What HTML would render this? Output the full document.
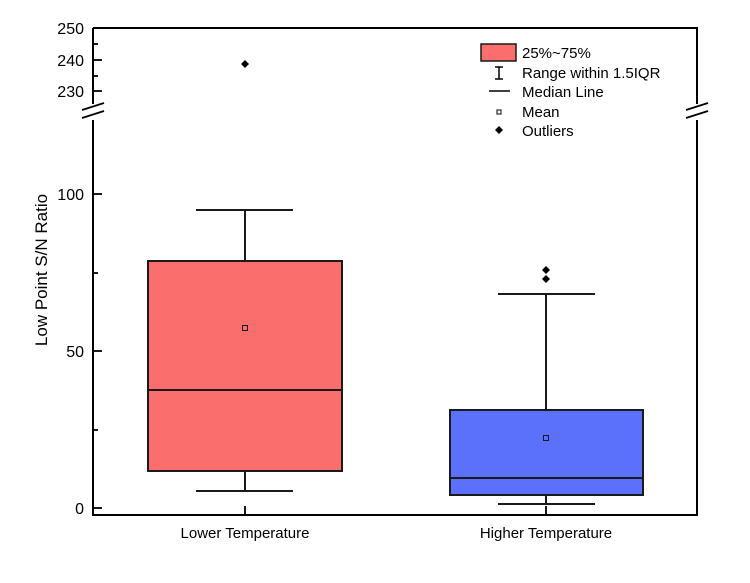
<!DOCTYPE html>
<html><head><style>body{margin:0;background:#fff}svg{display:block}</style></head><body>
<svg width="750" height="583" xmlns="http://www.w3.org/2000/svg" font-family="Liberation Sans, Arial, sans-serif">
<rect width="750" height="583" fill="#fff"/>
<g stroke="#000" stroke-width="2" fill="none">
<path d="M93,28 H697 V104 M697,120 V515 H93 V120 M93,104 V28"/>
</g>
<g stroke="#000" stroke-width="1.8">
<line x1="82" y1="110" x2="104" y2="103"/><line x1="82" y1="118" x2="104" y2="111"/>
<line x1="686" y1="110" x2="708" y2="103"/><line x1="686" y1="118" x2="708" y2="111"/>
<line x1="93" y1="60" x2="102" y2="60"/><line x1="93" y1="91" x2="102" y2="91"/>
<line x1="93" y1="44" x2="98" y2="44"/><line x1="93" y1="76" x2="98" y2="76"/>
<line x1="93" y1="194" x2="102" y2="194"/><line x1="93" y1="351" x2="102" y2="351"/><line x1="93" y1="508" x2="102" y2="508"/>
<line x1="93" y1="273" x2="98" y2="273"/><line x1="93" y1="430" x2="98" y2="430"/>
<line x1="245" y1="515" x2="245" y2="506"/><line x1="546" y1="515" x2="546" y2="506"/>
</g>
<g font-size="16" fill="#000" text-anchor="end">
<text x="84" y="34">250</text><text x="84" y="66">240</text><text x="84" y="97">230</text>
<text x="84" y="200">100</text><text x="84" y="357">50</text><text x="84" y="514">0</text>
</g>
<text transform="translate(47,270) rotate(-90)" font-size="17" text-anchor="middle">Low Point S/N Ratio</text>
<text x="245" y="538" font-size="15" text-anchor="middle">Lower Temperature</text>
<text x="546" y="538" font-size="15" text-anchor="middle">Higher Temperature</text>
<g stroke="#1a1a1a" stroke-width="2">
<line x1="245" y1="210" x2="245" y2="491"/><line x1="196" y1="210" x2="293" y2="210"/><line x1="196" y1="491" x2="293" y2="491"/>
<rect x="148" y="261" width="194" height="210" fill="#fa6e6e"/>
<line x1="148" y1="390" x2="342" y2="390"/>
<line x1="546" y1="294" x2="546" y2="504"/><line x1="498" y1="294" x2="595" y2="294"/><line x1="498" y1="504" x2="595" y2="504"/>
<rect x="450" y="410" width="193" height="85" fill="#5b70fb"/>
<line x1="450" y1="478" x2="643" y2="478"/>
</g>
<g stroke="#1a1a1a" stroke-width="1" fill="none">
<rect x="242.5" y="325.5" width="5" height="5"/><rect x="543.5" y="435.5" width="5" height="5"/>
</g>
<g fill="#000">
<path d="M245,60 l4,4 l-4,4 l-4,-4z"/><path d="M546,266 l4,4 l-4,4 l-4,-4z"/><path d="M546,275 l4,4 l-4,4 l-4,-4z"/>
</g>
<rect x="481" y="44" width="35" height="17" fill="#fa6e6e" stroke="#1a1a1a" stroke-width="1.5"/>
<g stroke="#000" stroke-width="1.5">
<line x1="499" y1="67" x2="499" y2="79"/><line x1="495" y1="67" x2="503" y2="67"/><line x1="495" y1="79" x2="503" y2="79"/>
<line x1="489" y1="91" x2="510" y2="91"/>
</g>
<rect x="497" y="110" width="4" height="4" fill="none" stroke="#000" stroke-width="1"/>
<path d="M499,126 l4,4 l-4,4 l-4,-4z" fill="#000"/>
<g font-size="15" fill="#000">
<text x="522" y="58">25%~75%</text><text x="522" y="78">Range within 1.5IQR</text>
<text x="522" y="97">Median Line</text><text x="522" y="117">Mean</text><text x="522" y="136">Outliers</text>
</g>
</svg>
</body></html>
